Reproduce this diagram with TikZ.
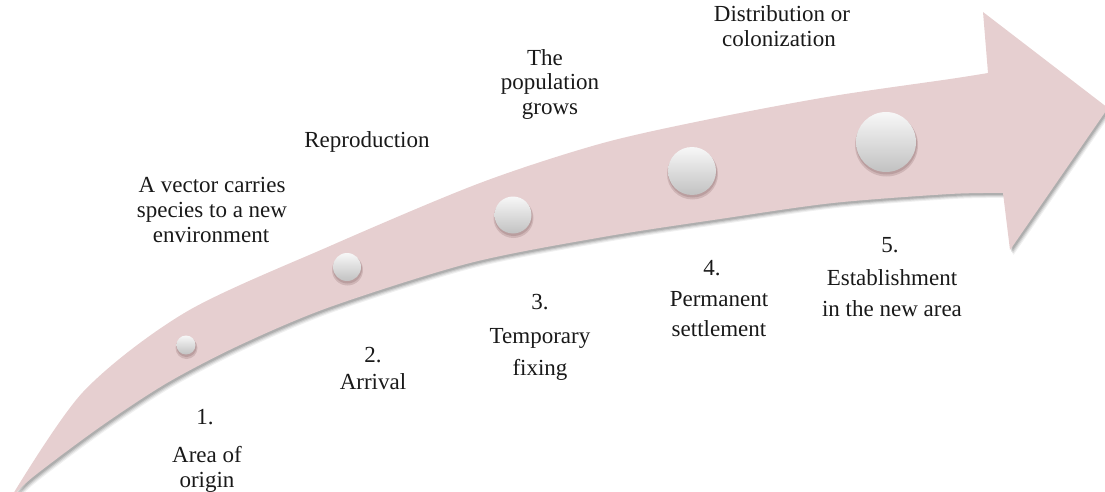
\documentclass[tikz,border=0pt]{standalone}
\usepackage{fontspec}
\setmainfont{Liberation Serif}
\definecolor{arrowpink}{RGB}{230,207,208}
\begin{document}
\begin{tikzpicture}[x=1pt,y=-1pt,
  lbl/.style={anchor=base, font=\rmfamily\fontsize{23}{25}\selectfont, inner sep=0pt, text=black!90},
  ball/.style={circle, inner sep=0pt, shading=axis, top color=white!97!black, bottom color=black!24, shading angle=0}
]
\useasboundingbox (0,0) rectangle (1105,492);
\def\arrowpath{plot[smooth, tension=0.5] coordinates {(10,499) (83,392) (186,312) (330,246) (480,183) (603,143) (720,117) (833,96) (950,79) (988,73)}
  -- (983,12) -- (1108,108) -- (1010,250) -- (1003,193)
  -- plot[smooth, tension=0.5] coordinates {(1003,193) (950,194) (833,203) (720,219) (603,237) (470,263) (330,307) (240,345) (167,383) (100,427) (33,477) (10,499)} -- cycle}
% shadow of the arrow
\foreach \d/\o in {5/0.06,4/0.08,3/0.1,2/0.12}{
  \fill[black, opacity=\o, shift={(\d*0.7,\d)}] \arrowpath;
}
% arrow body
\fill[arrowpink] \arrowpath;
% balls
\foreach \n/\x/\y/\r in {c1/186/345/9.5, c2/347/267/14, c3/513/215/18.5, c4/692/171/24, c5/886/142/30}{
  \fill[black!60!red!40!black, opacity=0.12] (\x+0.5,\y+3) circle (\r+1.5);
  \fill[black!60!red!40!black, opacity=0.12] (\x+0.5,\y+2) circle (\r+0.5);
  \node[ball, minimum size=2*\r] (\n) at (\x,\y) {};
}
% upper labels
\node[lbl] (u1a) at (212,192) {A vector carries};
\node[lbl] (u1b) at (212,217) {species to a new};
\node[lbl] (u1c) at (211,242) {environment};
\node[lbl] (u2) at (367,147) {Reproduction};
\node[lbl] (u3a) at (545,66) {The};
\node[lbl] (u3b) at (550,90) {population};
\node[lbl] (u3c) at (550,114) {grows};
\node[lbl] (u4a) at (782,22) {Distribution or};
\node[lbl] (u4b) at (779,47) {colonization};
% lower labels
\node[lbl] (l1a) at (205,424) {1.};
\node[lbl] (l1b) at (207,462) {Area of};
\node[lbl] (l1c) at (207,487) {origin};
\node[lbl] (l2a) at (373,362) {2.};
\node[lbl] (l2b) at (373,389) {Arrival};
\node[lbl] (l3a) at (540,309) {3.};
\node[lbl] (l3b) at (540,343) {Temporary};
\node[lbl] (l3c) at (540,375) {fixing};
\node[lbl] (l4a) at (712,275) {4.};
\node[lbl] (l4b) at (719,306) {Permanent};
\node[lbl] (l4c) at (719,336) {settlement};
\node[lbl] (l5a) at (890,252) {5.};
\node[lbl] (l5b) at (892,285) {Establishment};
\node[lbl] (l5c) at (892,316) {in the new area};
\end{tikzpicture}
\end{document}
